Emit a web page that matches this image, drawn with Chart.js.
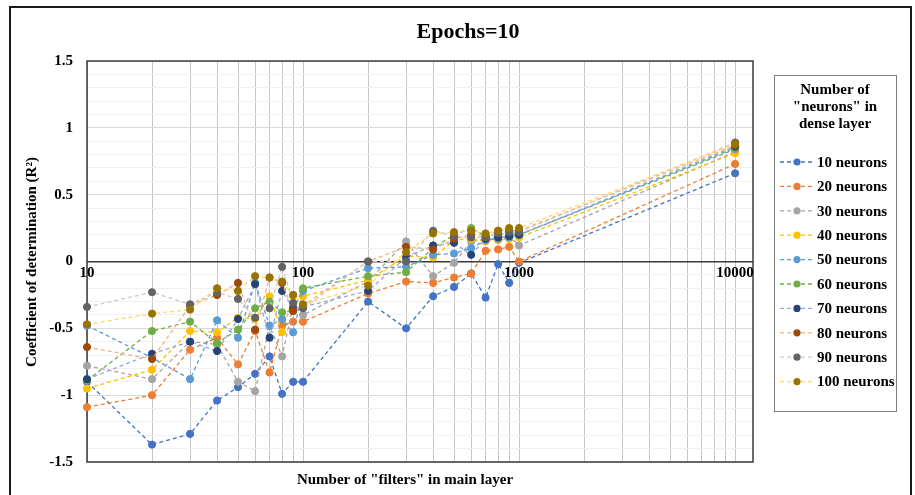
<!DOCTYPE html>
<html>
<head>
<meta charset="utf-8">
<script src="https://cdn.jsdelivr.net/npm/chart.js@4.4.1/dist/chart.umd.min.js"></script>
<style>
  body { margin: 0; background: #fff; }
  #wrap { width: 915px; height: 495px; }
</style>
</head>
<body>
<div id="wrap"><canvas id="r2Chart" width="915" height="495"></canvas></div>
<script>
// X values: number of filters in main layer
const filters = [10, 20, 30, 40, 50, 60, 70, 80, 90, 100, 200, 300, 400, 500, 600, 700, 800, 900, 1000, 10000];

// R² per neuron count
const neurons10  = [-0.90, -1.37, -1.29, -1.04, -0.94, -0.84, -0.71, -0.99, -0.90, -0.90, -0.30, -0.50, -0.26, -0.19, -0.09, -0.27, -0.02, -0.16, -0.01, 0.66];
const neurons20  = [-1.09, -1.00, -0.66, -0.57, -0.77, -0.52, -0.83, -0.48, -0.45, -0.45, -0.24, -0.15, -0.16, -0.12, -0.09, 0.08, 0.09, 0.11, 0.00, 0.73];
const neurons30  = [-0.78, -0.88, -0.60, -0.62, -0.90, -0.97, -0.48, -0.71, -0.33, -0.40, -0.15, 0.15, -0.11, -0.01, 0.15, 0.17, 0.18, 0.19, 0.12, 0.82];
const neurons40  = [-0.95, -0.81, -0.52, -0.53, -0.42, -0.43, -0.26, -0.53, -0.26, -0.26, -0.14, 0.04, 0.03, 0.16, 0.17, 0.15, 0.16, 0.17, 0.18, 0.81];
const neurons50  = [-0.48, -0.72, -0.88, -0.44, -0.57, -0.16, -0.48, -0.43, -0.53, -0.22, -0.05, -0.04, 0.05, 0.06, 0.10, 0.16, 0.17, 0.18, 0.20, 0.84];
const neurons60  = [-0.89, -0.52, -0.45, -0.61, -0.51, -0.35, -0.30, -0.38, -0.37, -0.20, -0.11, -0.08, 0.10, 0.20, 0.25, 0.19, 0.20, 0.21, 0.20, 0.85];
const neurons70  = [-0.88, -0.69, -0.60, -0.67, -0.43, -0.17, -0.57, -0.22, -0.35, -0.34, -0.22, 0.03, 0.12, 0.14, 0.05, 0.17, 0.18, 0.19, 0.20, 0.86];
const neurons80  = [-0.64, -0.73, -0.33, -0.25, -0.16, -0.51, -0.12, -0.16, -0.37, -0.33, 0.00, 0.11, 0.09, 0.17, 0.20, 0.19, 0.23, 0.23, 0.23, 0.87];
const neurons90  = [-0.34, -0.23, -0.32, -0.23, -0.28, -0.42, -0.35, -0.04, -0.31, -0.35, 0.00, 0.00, 0.23, 0.19, 0.18, 0.18, 0.21, 0.22, 0.22, 0.89];
const neurons100 = [-0.47, -0.39, -0.36, -0.20, -0.22, -0.11, -0.12, -0.15, -0.25, -0.32, -0.18, 0.07, 0.21, 0.22, 0.23, 0.21, 0.23, 0.25, 0.25, 0.88];

const seriesValues = [neurons10, neurons20, neurons30, neurons40, neurons50, neurons60, neurons70, neurons80, neurons90, neurons100];
const seriesNames = ["10 neurons", "20 neurons", "30 neurons", "40 neurons", "50 neurons", "60 neurons", "70 neurons", "80 neurons", "90 neurons", "100 neurons"];

// tick labels
const yTickLabels = [-1.5, -1, -0.5, 0, 0.5, 1, 1.5];
const xTickLabels = [10, 100, 1000, 10000];

// Excel-like palette: marker colours and (lighter) line colours
const markerColors = ["#4472C4", "#ED7D31", "#A5A5A5", "#FFC000", "#5B9BD5", "#70AD47", "#264478", "#9E480E", "#636363", "#997300"];
const lineColors   = ["#4472C4", "#ED7D31", "#A5A5A5", "#FFC000", "#5B9BD5", "#70AD47", "#8FAADC", "#F4B183", "#C9C9C9", "#FFD966"];

const FONT = '"Liberation Serif", "Times New Roman", serif';

// vertical gridlines 10,20,...,90,100,200,...,10000
const xGrid = [];
[10, 100, 1000].forEach(d => { for (let m = 1; m <= 9; m++) xGrid.push(m * d); });
xGrid.push(10000);

// horizontal gridlines every 0.1
const yGrid = [];
for (let i = -15; i <= 15; i++) yGrid.push(i / 10);

const isHalf = v => Math.abs(v * 2 - Math.round(v * 2)) < 1e-6;

const datasets = seriesValues.map((vals, i) => ({
    label: seriesNames[i],
    data: filters.map((f, j) => ({ x: f, y: vals[j] })),
    borderColor: lineColors[i],
    backgroundColor: markerColors[i],
    pointBackgroundColor: markerColors[i],
    pointBorderColor: markerColors[i],
    pointRadius: 3.6,
    pointBorderWidth: 1,
    borderWidth: 1.3,
    borderDash: [4, 3],
    tension: 0,
    clip: false,
    order: seriesValues.length - 1 - i, // later series on top, like Excel
}));

// everything Chart.js does not place itself: frame, titles, legend, x labels on the zero line
const decorPlugin = {
    id: "decor",
    beforeDraw(chart) {
        const c = chart.ctx;
        c.save();
        c.fillStyle = "#fff";
        c.fillRect(0, 0, chart.width, chart.height);
        c.restore();
    },
    beforeDatasetsDraw(chart) {
        const c = chart.ctx;
        const a = chart.chartArea;
        const xs = chart.scales.x;
        const ys = chart.scales.y;
        c.save();
        c.strokeStyle = "#3a3a3a";
        c.lineWidth = 1.5;
        c.strokeRect(a.left, a.top, a.right - a.left, a.bottom - a.top);

        // x tick labels sit under the zero line
        const y0 = ys.getPixelForValue(0);
        c.font = "bold 15px " + FONT;
        c.fillStyle = "#000";
        c.textAlign = "center";
        c.textBaseline = "top";
        xTickLabels.forEach(v => c.fillText(String(v), xs.getPixelForValue(v), y0 + 4));
        c.restore();
    },
    afterDraw(chart) {
        const c = chart.ctx;
        c.save();
        // outer chart border
        c.strokeStyle = "#1a1a1a";
        c.lineWidth = 2;
        c.strokeRect(10, 7, 901, 500);

        c.fillStyle = "#000";
        c.textAlign = "center";
        c.textBaseline = "middle";
        c.font = "bold 22px " + FONT;
        c.fillText("Epochs=10", 468, 32);

        c.font = "bold 15px " + FONT;
        c.fillText('Number of "filters" in main layer', 405, 480);

        c.save();
        c.translate(32, 262);
        c.rotate(-Math.PI / 2);
        c.fillText("Coefficient of determination (R\u00B2)", 0, 0);
        c.restore();

        // legend box
        c.strokeStyle = "#7f7f7f";
        c.lineWidth = 1;
        c.strokeRect(774.5, 75.5, 122, 336);
        ["Number of", '"neurons" in', "dense layer"].forEach((t, i) => c.fillText(t, 835, 90 + i * 17));
        chart.data.datasets.forEach((ds, i) => {
            const y = 162 + i * 24.4;
            c.setLineDash([4, 3]);
            c.strokeStyle = ds.borderColor;
            c.lineWidth = 1.3;
            c.beginPath();
            c.moveTo(780, y);
            c.lineTo(813, y);
            c.stroke();
            c.setLineDash([]);
            c.fillStyle = ds.pointBackgroundColor;
            c.beginPath();
            c.arc(797, y, 3.6, 0, Math.PI * 2);
            c.fill();
            c.fillStyle = "#000";
            c.textAlign = "left";
            c.fillText(ds.label, 817, y + 1);
        });
        c.restore();
    }
};

new Chart(document.getElementById("r2Chart"), {
    type: "line",
    data: { datasets: datasets },
    options: {
        responsive: false,
        animation: false,
        events: [],
        layout: { padding: { left: 0, top: 61, right: 162, bottom: 33 } },
        plugins: {
            legend: { display: false },
            title: { display: false },
            tooltip: { enabled: false },
        },
        scales: {
            x: {
                type: "logarithmic",
                min: 10,
                max: 12100,
                afterBuildTicks: s => { s.ticks = xGrid.map(v => ({ value: v })); },
                afterFit: s => { s.height = 0; },
                ticks: { display: false },
                grid: { color: "#c6c6c6", lineWidth: 1, drawTicks: false },
                border: { display: false },
            },
            y: {
                type: "linear",
                min: -1.5,
                max: 1.5,
                afterBuildTicks: s => { s.ticks = yGrid.map(v => ({ value: v })); },
                afterFit: s => { s.width = 87; },
                ticks: {
                    autoSkip: false,
                    padding: 14,
                    color: "#000",
                    font: { family: FONT, size: 15, weight: "bold" },
                    callback: v => {
                        const hit = yTickLabels.find(t => Math.abs(t - v) < 1e-6);
                        return hit === undefined ? "" : String(hit);
                    },
                },
                grid: {
                    drawTicks: false,
                    color: ctx => {
                        const v = ctx.tick.value;
                        if (Math.abs(v) < 1e-6) return "#3a3a3a";
                        return isHalf(v) ? "#d9d9d9" : "#f0f0f0";
                    },
                    lineWidth: ctx => (Math.abs(ctx.tick.value) < 1e-6 ? 1.5 : 1),
                },
                border: { display: false },
            },
        },
    },
    plugins: [decorPlugin],
});
</script>
</body>
</html>
